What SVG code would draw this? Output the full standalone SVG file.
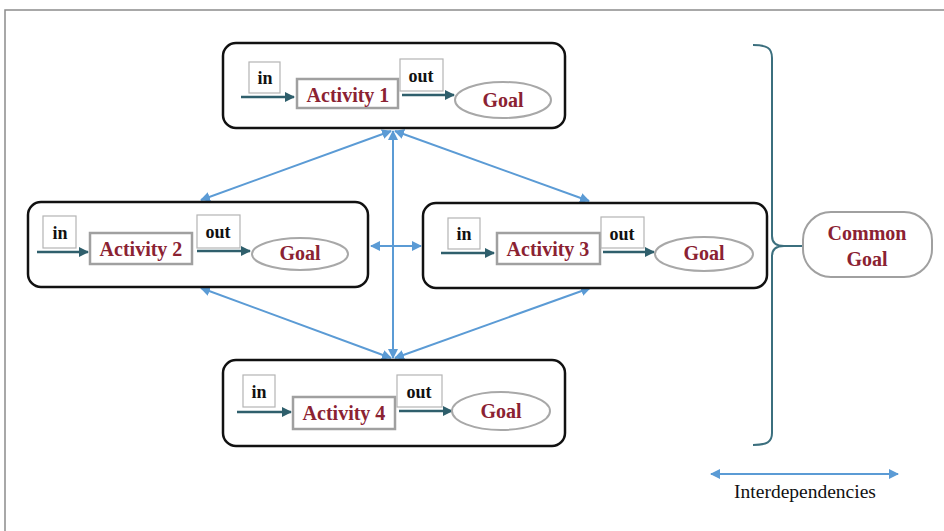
<svg xmlns="http://www.w3.org/2000/svg" width="944" height="531" viewBox="0 0 944 531">
  <style>
    .frame { fill: #ffffff; stroke: #8c8c8c; stroke-width: 1.5; }
    .unit { fill: #ffffff; stroke: #111111; stroke-width: 2.5; }
    .io { fill: #ffffff; stroke: #b4b4b4; stroke-width: 1.2; }
    .act { fill: #ffffff; stroke: #a0a0a0; stroke-width: 2.5; }
    .goal { fill: #ffffff; stroke: #a8a8a8; stroke-width: 2; }
    .flow { stroke: #2f5f6c; stroke-width: 2.5; fill: none; marker-end: url(#flowHead); }
    .dep { stroke: #5b9bd5; stroke-width: 2; fill: none; marker-start: url(#depStart); marker-end: url(#depEnd); }
    .lbl { font-family: "Liberation Serif", "Times New Roman", serif; font-weight: bold; font-size: 18px; fill: #111111; text-anchor: middle; }
    .red { font-family: "Liberation Serif", "Times New Roman", serif; font-weight: bold; font-size: 20px; fill: #8b2232; text-anchor: middle; }
    .brace { stroke: #3b6f7e; stroke-width: 2; fill: none; }
    .note { font-family: "Liberation Serif", "Times New Roman", serif; font-size: 19.5px; fill: #111111; text-anchor: middle; }
  </style>
  <defs>
    <marker id="flowHead" viewBox="0 0 10 10" refX="9" refY="5" markerWidth="4" markerHeight="4" orient="auto" markerUnits="strokeWidth">
      <path d="M0,0 L10,5 L0,10 z" fill="#2f5f6c"/>
    </marker>
    <marker id="depEnd" viewBox="0 0 10 10" refX="9" refY="5" markerWidth="5" markerHeight="5" orient="auto" markerUnits="strokeWidth">
      <path d="M0,0 L10,5 L0,10 z" fill="#5b9bd5"/>
    </marker>
    <marker id="depStart" viewBox="0 0 10 10" refX="1" refY="5" markerWidth="5" markerHeight="5" orient="auto" markerUnits="strokeWidth">
      <path d="M10,0 L0,5 L10,10 z" fill="#5b9bd5"/>
    </marker>
  </defs>

  <!-- page frame -->
  <rect class="frame" x="5" y="10" width="960" height="540"/>

  <!-- interdependency connectors -->
  <g id="connectors">
    <line class="dep" x1="393" y1="131" x2="393" y2="358"/>
    <line class="dep" x1="371" y1="246" x2="421" y2="246"/>
    <line class="dep" x1="391" y1="131" x2="201" y2="200"/>
    <line class="dep" x1="395" y1="131" x2="589" y2="201"/>
    <line class="dep" x1="201" y1="288" x2="391" y2="358"/>
    <line class="dep" x1="590" y1="288" x2="395" y2="358"/>
  </g>

  <!-- Activity 1 -->
  <g id="unit1">
    <rect class="unit" x="223" y="43" width="342" height="85" rx="13"/>
    <rect class="io" x="249" y="62" width="31" height="31"/>
    <text class="lbl" x="265" y="84">in</text>
    <line class="flow" x1="241" y1="97" x2="294" y2="97"/>
    <rect class="act" x="297" y="79" width="101" height="29"/>
    <text class="red" x="348" y="102">Activity 1</text>
    <rect class="io" x="400" y="59" width="43" height="32"/>
    <text class="lbl" x="421" y="82">out</text>
    <line class="flow" x1="402" y1="95" x2="454" y2="95"/>
    <ellipse class="goal" cx="503" cy="100" rx="48" ry="18"/>
    <text class="red" x="503" y="107">Goal</text>
  </g>

  <!-- Activity 2 -->
  <g id="unit2">
    <rect class="unit" x="28" y="202" width="340" height="85" rx="13"/>
    <rect class="io" x="43" y="216" width="33" height="32"/>
    <text class="lbl" x="60" y="239">in</text>
    <line class="flow" x1="37" y1="252" x2="88" y2="252"/>
    <rect class="act" x="90" y="233" width="102" height="31"/>
    <text class="red" x="141" y="256">Activity 2</text>
    <rect class="io" x="197" y="215" width="43" height="33"/>
    <text class="lbl" x="218" y="238">out</text>
    <line class="flow" x1="197" y1="251" x2="250" y2="251"/>
    <ellipse class="goal" cx="300" cy="254" rx="48" ry="16"/>
    <text class="red" x="300" y="260">Goal</text>
  </g>

  <!-- Activity 3 -->
  <g id="unit3">
    <rect class="unit" x="423" y="203" width="344" height="85" rx="13"/>
    <rect class="io" x="448" y="218" width="32" height="31"/>
    <text class="lbl" x="464" y="240">in</text>
    <line class="flow" x1="441" y1="253" x2="494" y2="253"/>
    <rect class="act" x="497" y="233" width="103" height="31"/>
    <text class="red" x="548" y="256">Activity 3</text>
    <rect class="io" x="601" y="217" width="43" height="31"/>
    <text class="lbl" x="622" y="240">out</text>
    <line class="flow" x1="603" y1="252" x2="654" y2="252"/>
    <ellipse class="goal" cx="704" cy="254" rx="49" ry="17"/>
    <text class="red" x="704" y="260">Goal</text>
  </g>

  <!-- Activity 4 -->
  <g id="unit4">
    <rect class="unit" x="223" y="360" width="342" height="86" rx="13"/>
    <rect class="io" x="243" y="375" width="32" height="32"/>
    <text class="lbl" x="259" y="398">in</text>
    <line class="flow" x1="237" y1="412" x2="291" y2="412"/>
    <rect class="act" x="293" y="397" width="102" height="32"/>
    <text class="red" x="344" y="420">Activity 4</text>
    <rect class="io" x="397" y="375" width="45" height="32"/>
    <text class="lbl" x="419" y="398">out</text>
    <line class="flow" x1="399" y1="411" x2="452" y2="411"/>
    <ellipse class="goal" cx="501" cy="411" rx="49" ry="19"/>
    <text class="red" x="501" y="418">Goal</text>
  </g>

  <!-- brace gathering the goals -->
  <g id="brace">
    <path class="brace" d="M753,45 C767,45 772,48 772,58 L772,236 C772,243 776,246 784,246 L803,246 M784,246 C776,246 772,249 772,256 L772,433 C772,442 767,445 753,445"/>
  </g>

  <!-- Common Goal -->
  <g id="common">
    <rect x="803" y="212" width="129" height="65" rx="28" fill="#ffffff" stroke="#a0a0a0" stroke-width="2"/>
    <text class="red" x="867" y="240">Common</text>
    <text class="red" x="867" y="266">Goal</text>
  </g>

  <!-- legend -->
  <g id="legend">
    <line class="dep" x1="711" y1="474" x2="898" y2="474"/>
    <text class="note" x="805" y="498">Interdependencies</text>
  </g>
</svg>
